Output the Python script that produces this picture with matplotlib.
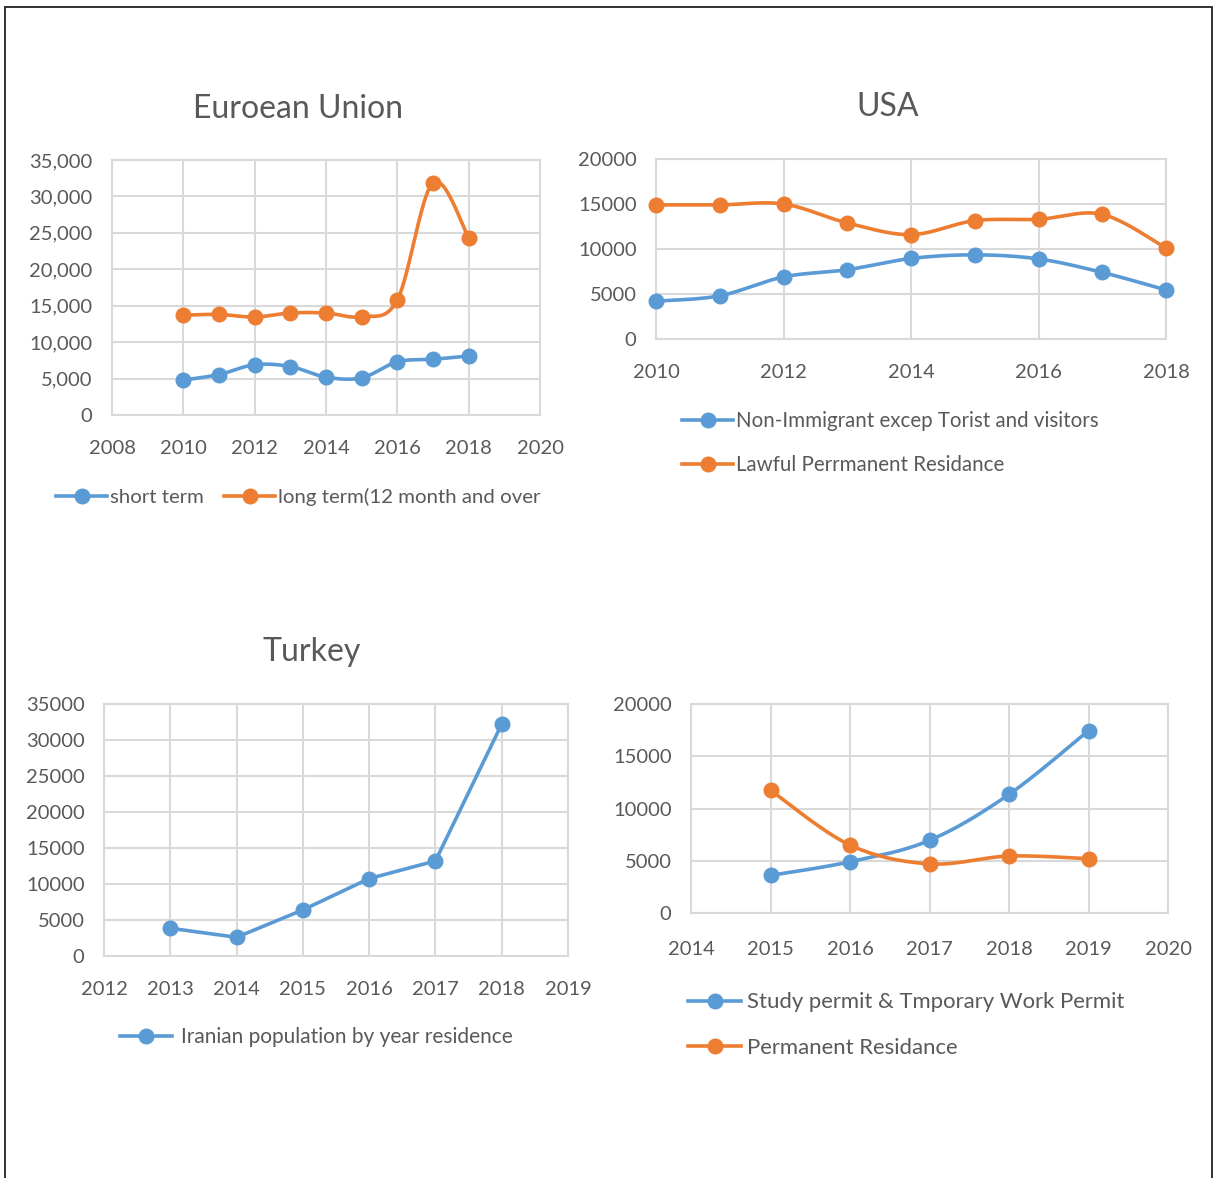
import numpy as np
import matplotlib
matplotlib.use('Agg')
import matplotlib.pyplot as plt
from matplotlib.patches import Rectangle
from matplotlib.lines import Line2D

plt.rcParams['font.family'] = ['Lato', 'DejaVu Sans']

W, H = 1214, 1178
BLUE = '#5B9BD5'
ORANGE = '#ED7D31'
TXT = '#595959'
GRID = '#D9D9D9'

# European Union
eu_years = [2010, 2011, 2012, 2013, 2014, 2015, 2016, 2017, 2018]
eu_short = [4800, 5550, 6900, 6650, 5200, 5100, 7300, 7650, 8100]
eu_long = [13700, 13800, 13450, 14000, 14000, 13500, 15800, 31900, 24350]
eu_labels = ['short term', 'long term(12 month and over']

# USA
usa_years = [2010, 2011, 2012, 2013, 2014, 2015, 2016, 2017, 2018]
usa_nonimm = [4200, 4800, 6900, 7700, 8950, 9350, 8900, 7400, 5450]
usa_lpr = [14900, 14900, 15000, 12900, 11600, 13150, 13300, 13850, 10100]
usa_labels = ['Non-Immigrant excep Torist and visitors', 'Lawful Perrmanent Residance']

# Turkey
tr_years = [2013, 2014, 2015, 2016, 2017, 2018]
tr_pop = [3850, 2600, 6400, 10750, 13200, 32200]
tr_labels = ['Iranian population by year residence']

# fourth chart (no title)
ca_years = [2015, 2016, 2017, 2018, 2019]
ca_study = [3600, 4900, 6950, 11350, 17450]
ca_perm = [11750, 6500, 4700, 5450, 5200]
ca_labels = ['Study permit & Tmporary Work Permit', 'Permanent Residance']


def smooth(x, y, n=40):
    # excel style smoothed line (catmull-rom bezier)
    x = np.asarray(x, float)
    y = np.asarray(y, float)
    px = np.concatenate([[x[0]], x, [x[-1]]])
    py = np.concatenate([[y[0]], y, [y[-1]]])
    t = np.linspace(0, 1, n)
    xs, ys = [], []
    for i in range(1, len(x)):
        p0 = np.array([px[i-1], py[i-1]])
        p1 = np.array([px[i], py[i]])
        p2 = np.array([px[i+1], py[i+1]])
        p3 = np.array([px[i+2], py[i+2]])
        c1 = p1 + (p2 - p0) / 6
        c2 = p2 - (p3 - p1) / 6
        b = ((1-t)**3)[:, None]*p1 + (3*(1-t)**2*t)[:, None]*c1 + (3*(1-t)*t**2)[:, None]*c2 + (t**3)[:, None]*p2
        xs.extend(b[:, 0]); ys.extend(b[:, 1])
    return xs, ys


fig = plt.figure(figsize=(W/100, H/100), dpi=100)


def make_ax(x0, y0, x1, y1):
    return fig.add_axes([x0/W, 1-y1/H, (x1-x0)/W, (y1-y0)/H])


def style(ax, xlim, xticks, ylim, yticks, ylabels=None, xpad=18, ypad=14):
    ax.set_xlim(xlim)
    ax.set_ylim(ylim)
    ax.set_xticks(xticks)
    ax.set_yticks(yticks)
    if ylabels is not None:
        ax.set_yticklabels(ylabels)
    ax.grid(True, color=GRID, lw=1.5)
    ax.set_axisbelow(True)
    for s in ax.spines.values():
        s.set_color(GRID)
        s.set_linewidth(1.5)
    ax.tick_params(length=0, labelsize=14.5, labelcolor=TXT)
    ax.tick_params(axis='x', pad=xpad)
    ax.tick_params(axis='y', pad=ypad)


def series(ax, x, y, color, smooth_it=True):
    if smooth_it:
        sx, sy = smooth(x, y)
    else:
        sx, sy = x, y
    ax.plot(sx, sy, color=color, lw=2.6, clip_on=False, zorder=3)
    ax.plot(x, y, 'o', color=color, ms=10.5, clip_on=False, zorder=4)


def handle(c):
    return Line2D([], [], color=c, lw=2.6, marker='o', ms=10.5)


def legend(ax, labels, colors, x, y, ncol=1, spacing=1.2, fs=15, tpad=0.2, hlen=2.5):
    ax.legend([handle(c) for c in colors], labels, loc='center left',
              bbox_to_anchor=(x/W, 1-y/H), bbox_transform=fig.transFigure,
              frameon=False, borderpad=0, borderaxespad=0, handlelength=hlen,
              handletextpad=tpad, columnspacing=1.0, labelspacing=spacing,
              fontsize=fs, labelcolor=TXT, ncol=ncol)


# EU
ax1 = make_ax(112, 160, 540, 415)
style(ax1, (2008, 2020), range(2008, 2021, 2), (0, 35000), range(0, 35001, 5000),
      ['{:,}'.format(v) for v in range(0, 35001, 5000)])
series(ax1, eu_years, eu_short, BLUE)
series(ax1, eu_years, eu_long, ORANGE)
legend(ax1, eu_labels, [BLUE, ORANGE], 56, 497, ncol=2, fs=14.7, tpad=0.15)
fig.text(298/W, 1-109/H, 'Euroean Union', ha='center', va='center', fontsize=23, color=TXT)

# USA
ax2 = make_ax(656, 159, 1166, 339)
style(ax2, (2010, 2018), range(2010, 2019, 2), (0, 20000), range(0, 20001, 5000))
series(ax2, usa_years, usa_nonimm, BLUE)
series(ax2, usa_years, usa_lpr, ORANGE)
legend(ax2, usa_labels, [BLUE, ORANGE], 682, 443, spacing=1.15, fs=14.8, tpad=0.15)
fig.text(888/W, 1-107/H, 'USA', ha='center', va='center', fontsize=23, color=TXT)

# Turkey
ax3 = make_ax(104, 704, 568, 956)
style(ax3, (2012, 2019), range(2012, 2020), (0, 35000), range(0, 35001, 5000))
series(ax3, tr_years, tr_pop, BLUE, smooth_it=False)
legend(ax3, tr_labels, [BLUE], 120, 1037, fs=15, tpad=0.45)
fig.text(312/W, 1-652/H, 'Turkey', ha='center', va='center', fontsize=23, color=TXT)

# fourth
ax4 = make_ax(691, 704, 1168, 913)
style(ax4, (2014, 2020), range(2014, 2021), (0, 20000), range(0, 20001, 5000), xpad=20)
series(ax4, ca_years, ca_study, BLUE)
series(ax4, ca_years, ca_perm, ORANGE)
legend(ax4, ca_labels, [BLUE, ORANGE], 688, 1025, spacing=1.15, fs=15.9, tpad=0.25, hlen=2.4)

# page border
fig.patches.append(Rectangle((4.5/W, -0.05), (1211.5-4.5)/W, 1.05-6.5/H,
                             transform=fig.transFigure, fill=False, ec='#222222', lw=1.3))

fig.savefig('out.png', dpi=100)
